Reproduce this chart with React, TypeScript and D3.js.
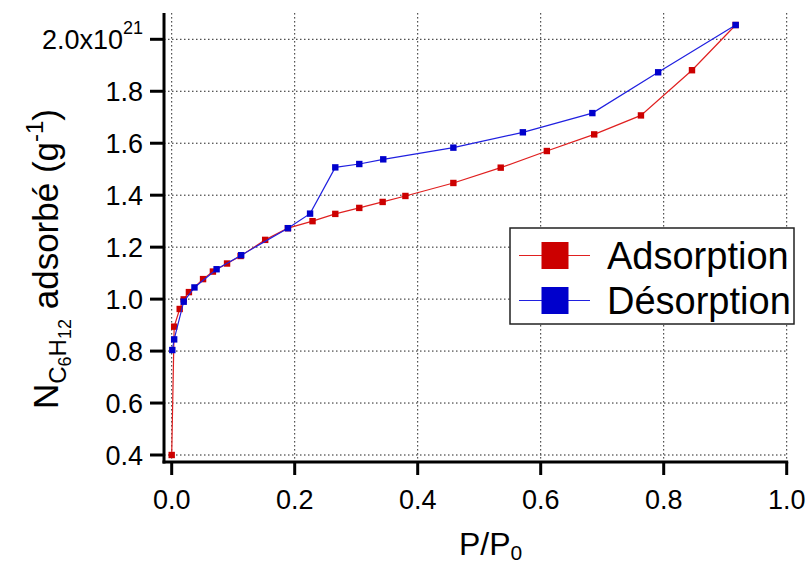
import React from "react";
import * as d3 from "d3";

const adsP = [0.0, 0.004, 0.013, 0.0195, 0.028, 0.051, 0.067, 0.09, 0.112, 0.152, 0.189, 0.229, 0.266, 0.305, 0.343, 0.38, 0.458, 0.535, 0.61, 0.687, 0.763, 0.846, 0.917];
const adsN = [0.4, 0.894, 0.962, 0.999, 1.027, 1.077, 1.106, 1.137, 1.166, 1.228, 1.273, 1.3, 1.328, 1.351, 1.374, 1.397, 1.447, 1.506, 1.57, 1.634, 1.707, 1.881, 2.055];
const desP = [0.001, 0.004, 0.0195, 0.037, 0.073, 0.113, 0.189, 0.225, 0.266, 0.305, 0.344, 0.458, 0.571, 0.684, 0.791, 0.917];
const desN = [0.804, 0.845, 0.99, 1.045, 1.115, 1.169, 1.273, 1.329, 1.507, 1.52, 1.538, 1.583, 1.642, 1.716, 1.873, 2.055];
const xTicks = [0, 0.2, 0.4, 0.6, 0.8, 1.0];
const yTicks = [0.4, 0.6, 0.8, 1.0, 1.2, 1.4, 1.6, 1.8, 2.0];
const seriesNames = ["Adsorption", "Désorption"];

const W = 810, H = 567;
const x = d3.scaleLinear().domain([0, 1]).range([171.7, 786.7]);
const y = d3.scaleLinear().domain([0.4, 2.0]).range([455, 39.3]);
const xMin = -0.0125, yMin = 0.373, yMax = 2.101;

const FONT = "'Liberation Sans', Arial, sans-serif";

function Series({ px, py, line, fill }: { px: number[]; py: number[]; line: string; fill: string }) {
  const pts = px.map((p, i) => [x(p), y(py[i])] as [number, number]);
  const path = d3.line()(pts) || "";
  return (
    <g>
      <path d={path} fill="none" stroke={line} strokeWidth={1.2} />
      {pts.map((p, i) => (
        <rect key={i} x={p[0] - 3.2} y={p[1] - 3.2} width={6.4} height={6.4} fill={fill} />
      ))}
    </g>
  );
}

export default function App() {
  const left = x(xMin), bottom = y(yMin), top = y(yMax), right = x(1);
  return (
    <svg width={W} height={H} style={{ position: "absolute", left: 0, top: 0, background: "#fff" }} fontFamily={FONT}>
      <rect width={W} height={H} fill="#fff" />
      {xTicks.map((t) => (
        <line key={"gx" + t} x1={x(t)} x2={x(t)} y1={top} y2={bottom} stroke="#222" strokeWidth={1} strokeDasharray="1.5,2.5" />
      ))}
      {yTicks.map((t) => (
        <line key={"gy" + t} x1={left} x2={right + 1} y1={y(t)} y2={y(t)} stroke="#222" strokeWidth={1} strokeDasharray="1.5,2.5" />
      ))}
      <Series px={adsP} py={adsN} line="#e02020" fill="#cc0000" />
      <Series px={desP} py={desN} line="#2020e0" fill="#0000cc" />
      <line x1={left} x2={left} y1={top} y2={bottom + 1.5} stroke="#000" strokeWidth={3} />
      <line x1={left - 1.5} x2={right + 1.5} y1={bottom} y2={bottom} stroke="#000" strokeWidth={3} />
      {xTicks.map((t) => (
        <g key={"tx" + t}>
          <line x1={x(t)} x2={x(t)} y1={bottom} y2={bottom + 13} stroke="#000" strokeWidth={3} />
          <text x={x(t)} y={509} textAnchor="middle" fontSize={27} fill="#000">{t.toFixed(1)}</text>
        </g>
      ))}
      {yTicks.map((t) => (
        <g key={"ty" + t}>
          <line x1={left - 14} x2={left} y1={y(t)} y2={y(t)} stroke="#000" strokeWidth={3} />
          {t === 2.0 ? (
            <text x={143} y={y(t) + 9.5} textAnchor="end" fontSize={27} fill="#000">
              2.0x10<tspan dy={-15} fontSize={18}>21</tspan>
            </text>
          ) : (
            <text x={143} y={y(t) + 9.5} textAnchor="end" fontSize={27} fill="#000">{t.toFixed(1)}</text>
          )}
        </g>
      ))}
      <text x={459} y={555} textAnchor="start" fontSize={32} fill="#000">
        P/P<tspan dy={5} fontSize={21}>0</tspan>
      </text>
      <text transform="translate(58,259) rotate(-90)" textAnchor="middle" fontSize={35} fill="#000">
        N<tspan dy={8} fontSize={24}>C</tspan><tspan dy={5} fontSize={18}>6</tspan><tspan dy={-5} fontSize={24}>H</tspan><tspan dy={5} fontSize={18}>12</tspan><tspan dy={-13} fontSize={35}> adsorbé (g</tspan><tspan dy={-15} fontSize={24}>-1</tspan><tspan dy={15} fontSize={35}>)</tspan>
      </text>
      <g>
        <rect x={510} y={228} width={284} height={96} fill="#fff" stroke="#222" strokeWidth={1.5} />
        {seriesNames.map((n, i) => {
          const cy = 255.5 + i * 45;
          const col = i === 0 ? "#e02020" : "#2020e0";
          const f = i === 0 ? "#cc0000" : "#0000cc";
          return (
            <g key={n}>
              <line x1={519} x2={590} y1={cy} y2={cy} stroke={col} strokeWidth={1.2} />
              <rect x={541.5} y={cy - 13.5} width={27} height={27} fill={f} />
              <text x={607} y={cy + 13} fontSize={38} fill="#000">{n}</text>
            </g>
          );
        })}
      </g>
    </svg>
  );
}
